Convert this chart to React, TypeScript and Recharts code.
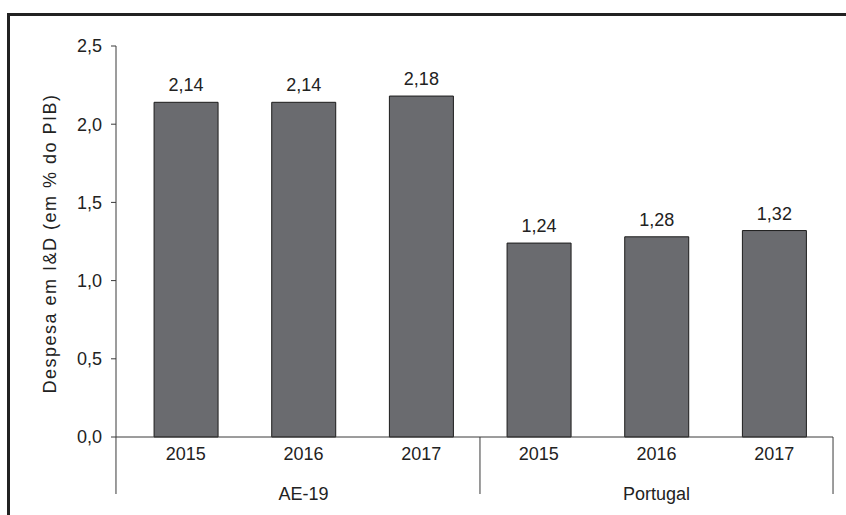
import { BarChart, Bar, XAxis, YAxis, LabelList } from "recharts";

// values
const years = ["2015", "2016", "2017", "2015", "2016", "2017"];
const groups = ["AE-19", "AE-19", "AE-19", "Portugal", "Portugal", "Portugal"];
const spending = [2.14, 2.14, 2.18, 1.24, 1.28, 1.32];
const yTicks = [0, 0.5, 1, 1.5, 2, 2.5];
const yLabel = "Despesa em I&D (em % do PIB)";

const data = years.map((year, i) => ({ year, group: groups[i], value: spending[i] }));

const FONT = "'Liberation Sans', Arial, sans-serif";
const INK = "#222";
const AXIS = "#3a3a3a";
const PAD_LEFT = 11;

const comma = (v: number, d: number) => v.toFixed(d).replace(".", ",");

function GroupTick(props: any) {
  const { x, y, index, payload } = props;
  const band = 117.7;
  const lines: number[] = [];
  if (index === 0) lines.push(x - band / 2 - PAD_LEFT);
  if (index > 0 && groups[index] !== groups[index - 1]) lines.push(x - band / 2);
  if (index === groups.length - 1) lines.push(x + band / 2);
  const first = groups.indexOf(payload.value);
  const last = groups.lastIndexOf(payload.value);
  const mid = Math.floor((first + last) / 2) === index;
  return (
    <g>
      {lines.map((lx) => (
        <line key={lx} x1={lx} x2={lx} y1={y - 30} y2={y + 27} stroke={AXIS} strokeWidth={1} />
      ))}
      {mid && (
        <text x={x} y={y + 33} textAnchor="middle" fontSize={18} fill={INK} fontFamily={FONT}>
          {groups[index]}
        </text>
      )}
    </g>
  );
}

function YTitle(props: any) {
  const { viewBox } = props;
  const cx = viewBox.x + 3.5;
  const cy = viewBox.y + viewBox.height / 2 + 2;
  return (
    <text
      x={cx}
      y={cy}
      transform={`rotate(-90, ${cx}, ${cy})`}
      textAnchor="middle"
      dominantBaseline="central"
      fontSize={18}
      letterSpacing={1.5}
      fill={INK}
      fontFamily={FONT}
    >
      {yLabel}
    </text>
  );
}

export default function App() {
  return (
    <div style={{ position: "absolute", left: 0, top: 0, width: 846, height: 515, background: "#fff" }}>
      <div
        style={{
          position: "absolute", left: 7, top: 13, width: 900, height: 600,
          borderTop: "3px solid #222", borderLeft: "3px solid #222",
        }}
      />
      <div style={{ position: "absolute", left: 0, top: 0 }}>
        <BarChart
          width={846}
          height={515}
          data={data}
          margin={{ top: 46, right: 13, bottom: 0, left: 46 }}
          barCategoryGap="23%"
          style={{ fontFamily: FONT }}
        >
          <YAxis
            width={70}
            domain={[0, 2.5]}
            ticks={yTicks}
            tickFormatter={(v: number) => comma(v, 1)}
            tick={{ fontSize: 18, fill: INK }}
            tickSize={5}
            tickMargin={9}
            stroke={AXIS}
            label={<YTitle />}
          />
          <XAxis
            dataKey="year"
            height={30}
            padding={{ left: PAD_LEFT, right: 0 }}
            tick={{ fontSize: 18, fill: INK }}
            tickLine={false}
            tickMargin={4}
            stroke={AXIS}
          />
          <XAxis
            xAxisId="grp"
            dataKey="group"
            height={48}
            padding={{ left: PAD_LEFT, right: 0 }}
            axisLine={false}
            tickLine={false}
            tickSize={0}
            tickMargin={0}
            interval={0}
            tick={<GroupTick />}
          />
          <Bar dataKey="value" fill="#6a6b6f" stroke="#1c1c1c" strokeWidth={1} isAnimationActive={false}>
            <LabelList
              dataKey="value"
              position="top"
              offset={11}
              formatter={(v: number) => comma(v, 2)}
              style={{ fontSize: 18, fill: INK, fontFamily: FONT }}
            />
          </Bar>
        </BarChart>
      </div>
    </div>
  );
}
